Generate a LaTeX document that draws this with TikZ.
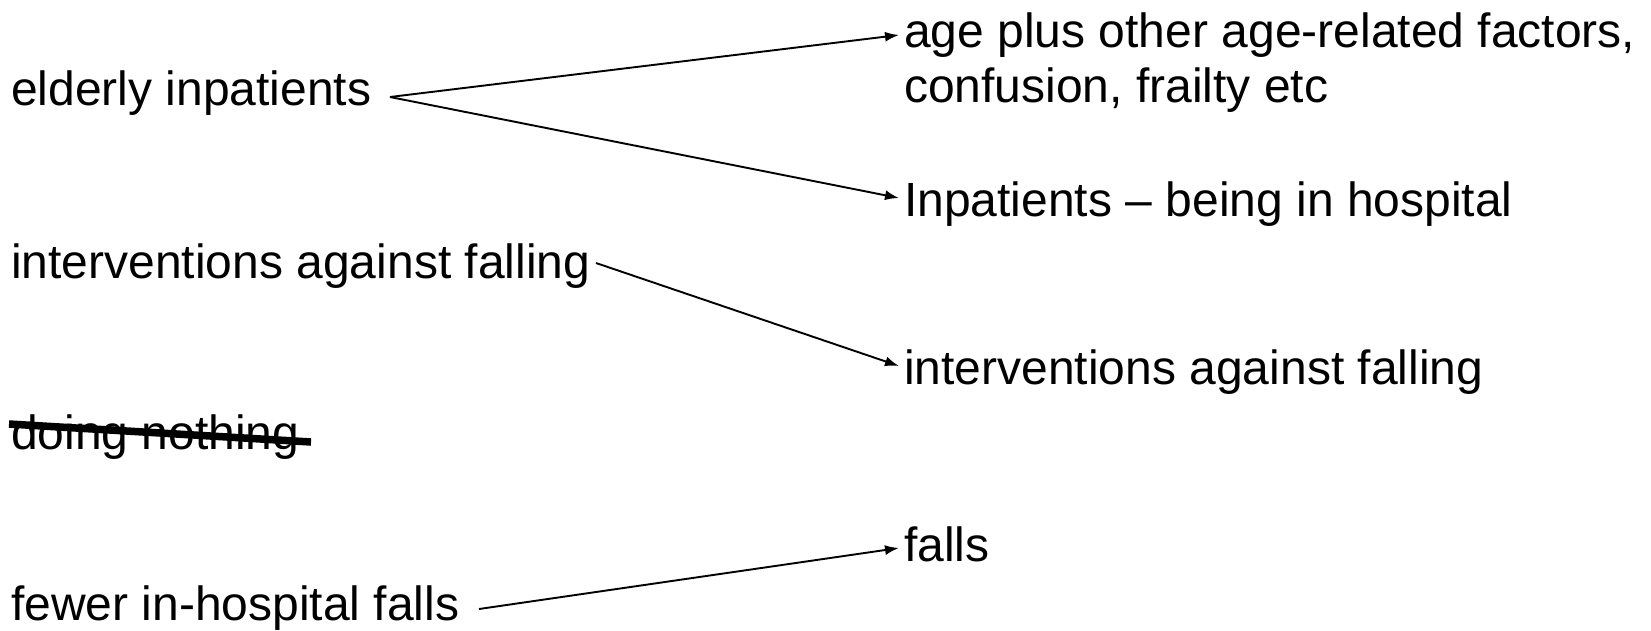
\documentclass[tikz,border=0pt]{standalone}
\usepackage{fontspec}
\setmainfont{Liberation Sans}
\usetikzlibrary{arrows.meta}
\begin{document}
\begin{tikzpicture}[x=1pt,y=-1pt,
  lbl/.style={anchor=base west,inner sep=0pt,font=\fontsize{48}{52}\selectfont},
  conn/.style={line width=1.9pt,-{Latex[length=14pt,width=10pt]}},
  strike/.style={line width=7.5pt}]
\useasboundingbox (0,0) rectangle (1651,630);
% left column
\node[lbl] (ei) at (11,105) {elderly inpatients};
\node[lbl] (iaf1) at (11,278) {interventions against falling};
\node[lbl] (dn) at (11,449) {doing nothing};
\node[lbl] (fhf) at (11,620) {fewer in-hospital falls};
% right column
\node[anchor=north west,inner sep=0pt,align=left,font=\fontsize{48}{55}\selectfont] (age) at (904,13)
  {age plus other age-related factors,\\confusion, frailty etc};
\node[lbl] (inp) at (904,216) {Inpatients – being in hospital};
\node[lbl] (iaf2) at (904,384) {interventions against falling};
\node[lbl] (falls) at (904,561) {falls};
% connector endpoints
\coordinate (eiS) at (390,97);
\coordinate (ageT) at (899,35);
\coordinate (inpT) at (899,198);
\coordinate (iafS) at (596,263);
\coordinate (iafT) at (899,366);
\coordinate (fhfS) at (479,609);
\coordinate (fallsT) at (899,548);
\coordinate (dnA) at (9,424);
\coordinate (dnB) at (311,442);
% connectors
\draw[conn] (eiS) -- (ageT);
\draw[conn] (eiS) -- (inpT);
\draw[conn] (iafS) -- (iafT);
\draw[conn] (fhfS) -- (fallsT);
\draw[strike] (dnA) -- (dnB);
\end{tikzpicture}
\end{document}
